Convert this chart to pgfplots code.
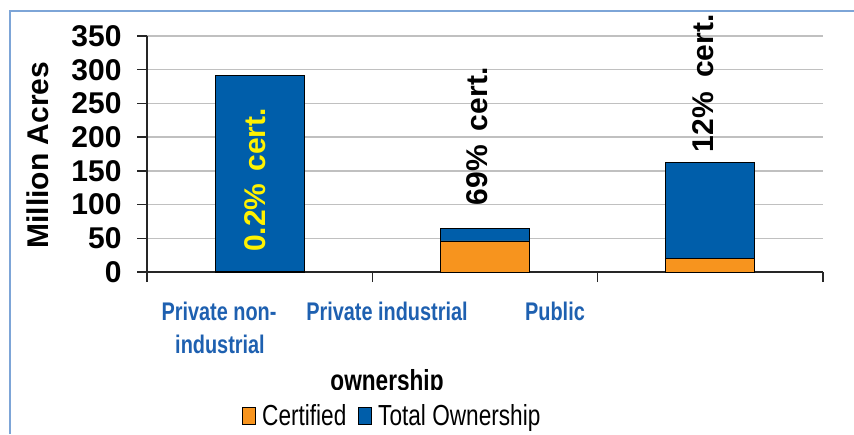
\documentclass[border=0pt]{standalone}
\usepackage{pgfplots}
\pgfplotsset{compat=1.18}
\usepackage{fontspec}
\setmainfont{Liberation Sans}
\newfontfamily\narrow[FakeStretch=0.78]{Liberation Sans}
\definecolor{barblue}{RGB}{0,94,170}
\definecolor{barorange}{RGB}{247,148,30}
\definecolor{catblue}{RGB}{30,96,176}
\definecolor{framecol}{RGB}{125,165,215}
\definecolor{gridgray}{RGB}{192,192,192}
\begin{document}
\begin{tikzpicture}
\path[use as bounding box] (0pt,0pt) rectangle (854pt,-434pt);
\draw[framecol, line width=2pt] (10pt,-434pt) -- (10pt,-11pt) -- (854pt,-11pt);
% y label
\node[rotate=90, font=\bfseries\fontsize{30}{30}\selectfont] at (38pt,-155pt) {Million Acres};
% category labels
\begin{scope}[every node/.style={anchor=base, text=catblue, font=\narrow\bfseries\fontsize{25.5}{25.5}\selectfont}]
\node at (219pt,-320pt) {Private non-};
\node at (220pt,-353pt) {industrial};
\node at (387pt,-320pt) {Private industrial};
\node at (555pt,-320pt) {Public};
\end{scope}
% x axis title (partly hidden by the legend)
\begin{scope}
\clip (0pt,-389pt) rectangle (854pt,0pt);
\node[anchor=base, font=\narrow\bfseries\fontsize{29}{29}\selectfont] at (387pt,-390pt) {ownership};
\end{scope}
\begin{axis}[
  at={(147pt,-272pt)}, anchor=south west,
  scale only axis, width=676pt, height=236pt,
  xmin=0.5, xmax=3.5, ymin=0, ymax=350,
  ybar stacked, bar width=89pt,
  axis x line*=bottom, axis y line*=left,
  axis line style={line width=1.5pt, black!85},
  ytick={0,50,...,350},
  xtick={1,2,3}, xticklabels={}, major x tick style={draw=none},
  minor xtick={0.5,1.5,2.5,3.5},
  tick align=outside, major tick length=10pt, minor tick length=10pt,
  tick style={line width=1.5pt, black!85},
  ymajorgrids, grid style={line width=1.5pt, gridgray},
  yticklabel style={font=\bfseries\fontsize{30}{30}\selectfont, xshift=-12pt},
  /pgf/number format/assume math mode=true,
  legend columns=2,
  legend style={at={(0.363,-0.61)}, anchor=center, draw=none, fill=white,
    font=\narrow\fontsize{29}{29}\selectfont,
    /tikz/every odd column/.append style={column sep=4pt},
    /tikz/every even column/.append style={column sep=10pt}},
  legend image code/.code={\draw[#1, draw=black, line width=0.8pt] (0pt,-8.5pt) rectangle (13pt,8.5pt);},
]
\addplot[fill=barorange, draw=black, line width=0.8pt] coordinates {(1,0.6) (2,46) (3,19.5)};
\addplot[fill=barblue, draw=black, line width=0.8pt] coordinates {(1,291.4) (2,19) (3,143.5)};
\legend{Certified, Total Ownership}
\coordinate (L1) at (axis cs:0.978,136.5);
\coordinate (L2) at (axis cs:1.965,201);
\coordinate (L3) at (axis cs:2.97,280);
\end{axis}
\begin{scope}[every node/.style={rotate=90, font=\bfseries\fontsize{30}{30}\selectfont}]
\node[text=yellow] at (L1) {0.2\%\hspace{0.12em} cert.};
\node at (L2) {69\%\hspace{0.2em} cert.};
\node at (L3) {12\%\hspace{0.2em} cert.};
\end{scope}
\end{tikzpicture}
\end{document}
